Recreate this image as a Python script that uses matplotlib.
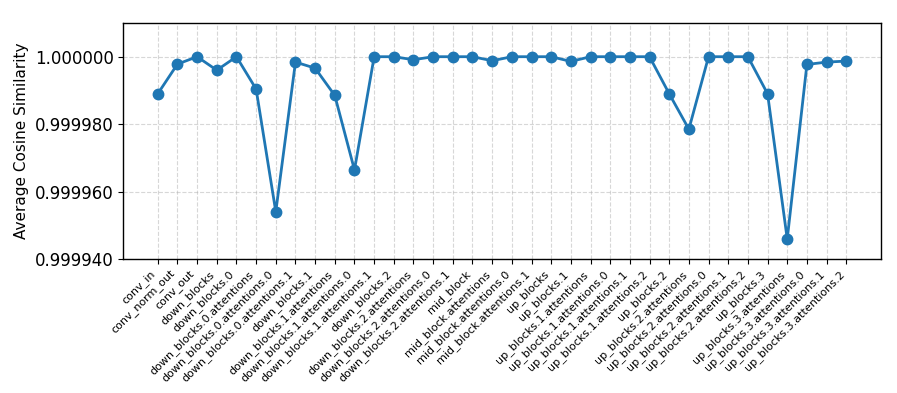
import matplotlib
matplotlib.use("Agg")
import matplotlib.pyplot as plt
from matplotlib.ticker import FormatStrFormatter

layers = [
    "conv_in", "conv_norm_out", "conv_out", "down_blocks", "down_blocks.0",
    "down_blocks.0.attentions", "down_blocks.0.attentions.0", "down_blocks.0.attentions.1",
    "down_blocks.1", "down_blocks.1.attentions", "down_blocks.1.attentions.0",
    "down_blocks.1.attentions.1", "down_blocks.2", "down_blocks.2.attentions",
    "down_blocks.2.attentions.0", "down_blocks.2.attentions.1", "mid_block",
    "mid_block.attentions", "mid_block.attentions.0", "mid_block.attentions.1",
    "up_blocks", "up_blocks.1", "up_blocks.1.attentions", "up_blocks.1.attentions.0",
    "up_blocks.1.attentions.1", "up_blocks.1.attentions.2", "up_blocks.2",
    "up_blocks.2.attentions", "up_blocks.2.attentions.0", "up_blocks.2.attentions.1",
    "up_blocks.2.attentions.2", "up_blocks.3", "up_blocks.3.attentions",
    "up_blocks.3.attentions.0", "up_blocks.3.attentions.1", "up_blocks.3.attentions.2",
]
similarity = [
    0.9999890, 0.9999978, 1.0000000, 0.9999960, 1.0000000,
    0.9999904, 0.9999540, 0.9999984,
    0.9999966, 0.9999885, 0.9999664,
    1.0000000, 1.0000000, 0.9999991,
    1.0000000, 1.0000000, 1.0000000,
    0.9999988, 1.0000000, 1.0000000,
    1.0000000, 0.9999986, 1.0000000, 1.0000000,
    1.0000000, 1.0000000, 0.9999890,
    0.9999785, 1.0000000, 1.0000000,
    1.0000000, 0.9999890, 0.9999459,
    0.9999977, 0.9999984, 0.9999987,
]
yticks = [0.99994, 0.99996, 0.99998, 1.0]

fig = plt.figure(figsize=(8.97, 3.93), dpi=100)
ax = fig.add_axes([0.1375, 0.341, 0.8443, 0.6005])
x = list(range(len(layers)))
ax.plot(x, similarity, marker="o", markersize=7.5, linewidth=2, color="#1f77b4")
ax.set_xticks(x)
ax.set_xticklabels(layers, rotation=45, ha="right", fontsize=8, rotation_mode="default")
ax.set_ylim(0.99994, 1.00001)
ax.set_yticks(yticks)
ax.yaxis.set_major_formatter(FormatStrFormatter("%.6f"))
ax.tick_params(axis="y", labelsize=12)
ax.set_ylabel("Average Cosine Similarity", fontsize=11)
ax.grid(True, linestyle="--", alpha=0.5)
for s in ax.spines.values():
    s.set_linewidth(1.0)
fig.savefig("out.png", dpi=100)
